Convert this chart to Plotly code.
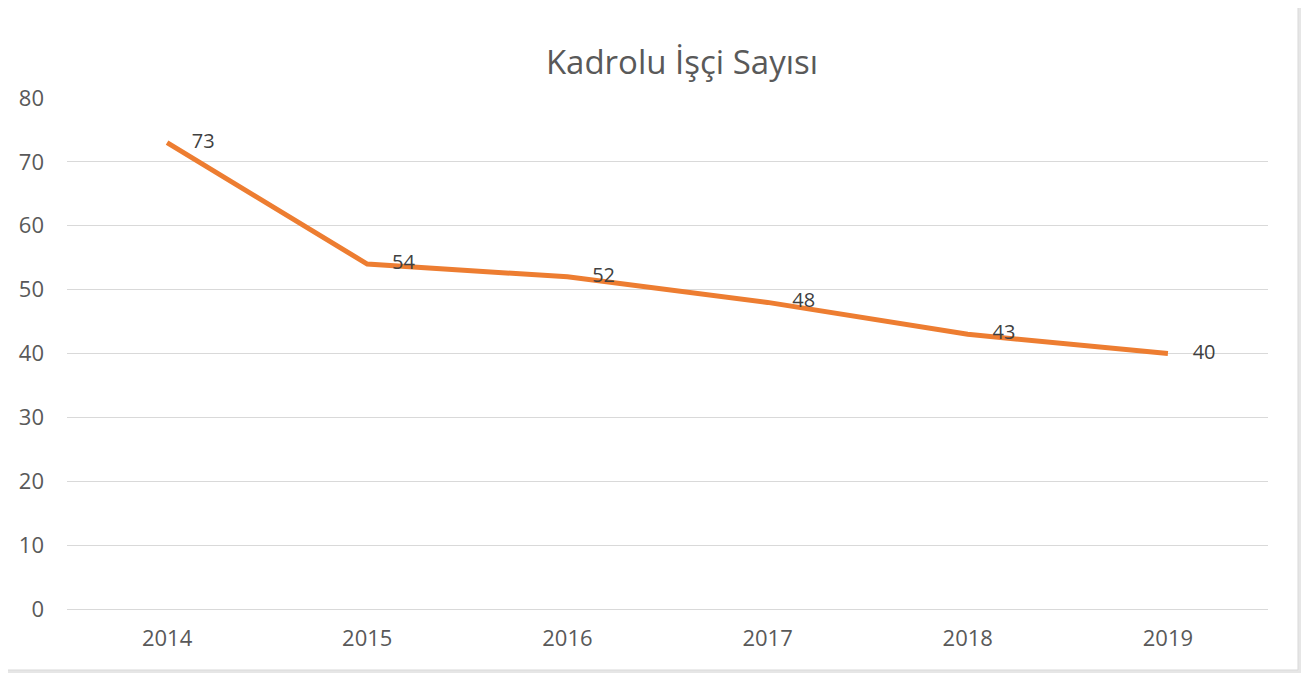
import plotly.graph_objects as go

# data
years  = ["2014", "2015", "2016", "2017", "2018", "2019"]
counts = [73, 54, 52, 48, 43, 40]

W, H = 1309, 673
OFF = 8  # page body margin
L, R, T, B = 67 - OFF, 41 + OFF, 98 - OFF, 64 + OFF
pw, ph = W - L - R, H - T - B


def px_x(v):
    return (v - OFF - L) / pw


def px_y(v):
    return (H - B - (v - OFF)) / ph


fig = go.Figure()
fig.add_trace(go.Scatter(
    x=years, y=counts,
    mode="lines+markers+text",
    line=dict(color="#ED7D31", width=5),
    marker=dict(size=38, color="rgba(0,0,0,0)"),
    text=[str(v) for v in counts],
    textposition="middle right",
    textfont=dict(family="Open Sans", size=20, color="#404040"),
    hoverinfo="x+y",
    cliponaxis=False,
))

# white card on a light grey frame
fig.add_shape(type="rect", xref="paper", yref="paper", layer="below",
              x0=px_x(0), x1=px_x(1298), y0=px_y(670), y1=px_y(0),
              fillcolor="white", line=dict(color="#d9d9d9", width=1))

fig.update_layout(
    width=W, height=H,
    margin=dict(l=L, r=R, t=T, b=B),
    paper_bgcolor="#e6e6e6",
    plot_bgcolor="rgba(0,0,0,0)",
    showlegend=False,
    title=dict(text="Kadrolu İşçi Sayısı", x=(682 - OFF) / W, xanchor="center",
               y=1 - (62 - OFF) / H, yanchor="middle",
               font=dict(family="Open Sans", size=33, color="#595959")),
    font=dict(family="Open Sans", size=22, color="#595959"),
    xaxis=dict(type="category", range=[-0.5, len(years) - 0.5],
               showgrid=False, zeroline=False,
               showline=False, ticks="", ticklabelstandoff=14),
    yaxis=dict(range=[0, 80], dtick=10, showgrid=True, gridcolor="#d9d9d9",
               gridwidth=1, zeroline=True, zerolinecolor="#d9d9d9",
               zerolinewidth=1, showline=False, ticks="",
               ticklabelstandoff=22),
)

fig.write_html("out.html")
